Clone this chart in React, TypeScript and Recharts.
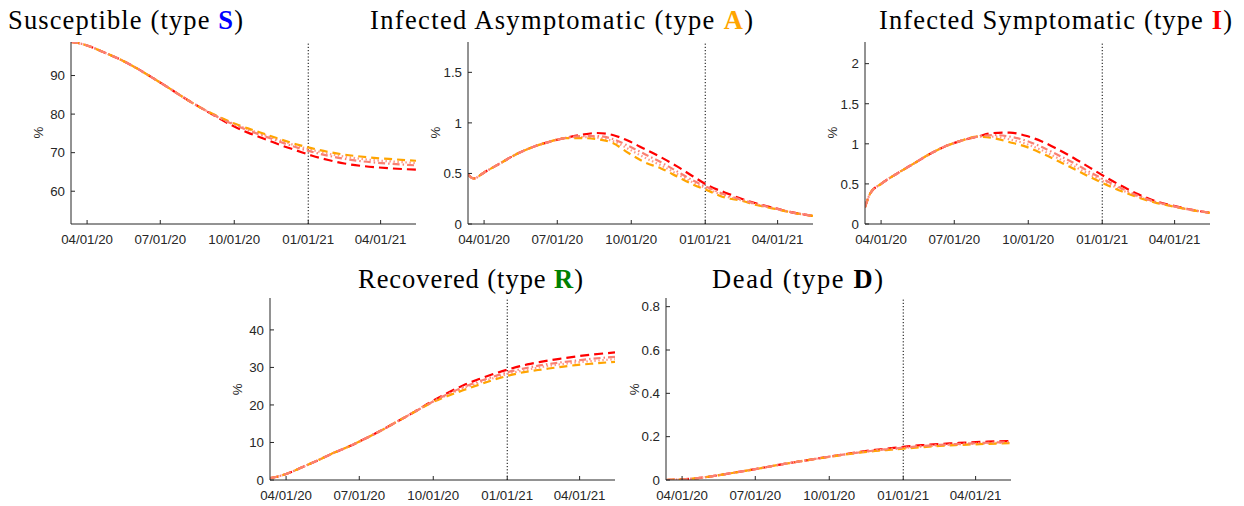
import { LineChart, Line, XAxis, YAxis, ReferenceLine } from "recharts"

// days since 2020-03-12
const days = [0, 7, 20, 40, 60, 80, 100, 120, 140, 160, 180, 200, 220, 240, 260, 280, 300, 320, 340, 360, 380, 400, 429]
const tickDays = [20, 111, 203, 295, 385]
const tickLabels = ["04/01/20", "07/01/20", "10/01/20", "01/01/21", "04/01/21"]
const splitDay = 295

const sRed = [98.7, 98.5, 97.8, 96.1, 94.3, 92.1, 89.6, 87.0, 84.3, 81.8, 79.4, 77.1, 75.2, 73.6, 72.0, 70.6, 69.2, 68.1, 67.2, 66.6, 66.2, 65.9, 65.6]
const sMid = [98.7, 98.5, 97.8, 96.1, 94.3, 92.1, 89.6, 87.0, 84.3, 81.8, 79.5, 77.5, 75.8, 74.3, 72.8, 71.4, 70.2, 69.2, 68.4, 67.8, 67.4, 67.1, 66.7]
const sDot = [98.7, 98.5, 97.8, 96.1, 94.3, 92.1, 89.6, 87.0, 84.3, 81.8, 79.6, 77.7, 76.1, 74.6, 73.2, 71.8, 70.7, 69.7, 69.0, 68.4, 68.0, 67.7, 67.3]
const sOrange = [98.7, 98.5, 97.8, 96.1, 94.3, 92.1, 89.6, 87.0, 84.3, 81.8, 79.7, 77.8, 76.3, 74.9, 73.5, 72.2, 71.1, 70.2, 69.5, 69.0, 68.6, 68.3, 67.9]

const aRed = [0.49, 0.45, 0.51, 0.6, 0.69, 0.76, 0.81, 0.85, 0.88, 0.9, 0.88, 0.82, 0.74, 0.66, 0.57, 0.47, 0.375, 0.31, 0.25, 0.2, 0.16, 0.12, 0.08]
const aMid = [0.49, 0.45, 0.51, 0.6, 0.69, 0.76, 0.81, 0.85, 0.87, 0.87, 0.84, 0.77, 0.69, 0.61, 0.52, 0.43, 0.355, 0.29, 0.24, 0.195, 0.157, 0.12, 0.08]
const aDot = [0.49, 0.45, 0.51, 0.6, 0.69, 0.76, 0.81, 0.85, 0.86, 0.855, 0.82, 0.74, 0.655, 0.58, 0.495, 0.41, 0.34, 0.275, 0.235, 0.19, 0.155, 0.12, 0.08]
const aOrange = [0.49, 0.45, 0.51, 0.6, 0.69, 0.76, 0.81, 0.85, 0.85, 0.84, 0.8, 0.7, 0.61, 0.55, 0.47, 0.39, 0.325, 0.26, 0.23, 0.185, 0.152, 0.118, 0.08]

const iRed = [0.21, 0.39, 0.5, 0.63, 0.75, 0.87, 0.97, 1.04, 1.09, 1.135, 1.14, 1.1, 1.03, 0.93, 0.82, 0.7, 0.58, 0.47, 0.37, 0.29, 0.235, 0.19, 0.14]
const iMid = [0.21, 0.39, 0.5, 0.63, 0.75, 0.87, 0.97, 1.04, 1.09, 1.11, 1.09, 1.04, 0.96, 0.86, 0.76, 0.645, 0.54, 0.44, 0.35, 0.28, 0.23, 0.187, 0.14]
const iDot = [0.21, 0.39, 0.5, 0.63, 0.75, 0.87, 0.97, 1.04, 1.09, 1.09, 1.055, 1.0, 0.92, 0.82, 0.72, 0.615, 0.515, 0.42, 0.34, 0.275, 0.228, 0.186, 0.14]
const iOrange = [0.21, 0.39, 0.5, 0.63, 0.75, 0.87, 0.97, 1.04, 1.09, 1.07, 1.02, 0.965, 0.88, 0.785, 0.685, 0.585, 0.49, 0.405, 0.33, 0.27, 0.225, 0.185, 0.14]

const rRed = [0.5, 0.8, 1.6, 3.4, 5.3, 7.3, 9.1, 11.2, 13.4, 15.8, 18.2, 20.8, 23.1, 25.2, 26.9, 28.4, 29.7, 30.8, 31.6, 32.3, 32.9, 33.4, 34.0]
const rMid = [0.5, 0.8, 1.6, 3.4, 5.3, 7.3, 9.1, 11.2, 13.4, 15.8, 18.2, 20.6, 22.8, 24.7, 26.3, 27.7, 29.0, 29.9, 30.7, 31.3, 31.8, 32.3, 32.8]
const rDot = [0.5, 0.8, 1.6, 3.4, 5.3, 7.3, 9.1, 11.2, 13.4, 15.8, 18.2, 20.6, 22.6, 24.4, 25.9, 27.3, 28.5, 29.4, 30.2, 30.8, 31.3, 31.7, 32.2]
const rOrange = [0.5, 0.8, 1.6, 3.4, 5.3, 7.3, 9.1, 11.2, 13.4, 15.8, 18.2, 20.5, 22.3, 23.9, 25.4, 26.8, 28.0, 28.9, 29.5, 30.1, 30.6, 31.0, 31.5]

const dRed = [0, 0.001, 0.003, 0.009, 0.019, 0.031, 0.043, 0.056, 0.07, 0.082, 0.094, 0.106, 0.118, 0.129, 0.139, 0.147, 0.155, 0.161, 0.166, 0.17, 0.174, 0.177, 0.18]
const dMid = [0, 0.001, 0.003, 0.009, 0.019, 0.031, 0.043, 0.056, 0.07, 0.082, 0.094, 0.106, 0.117, 0.127, 0.137, 0.144, 0.151, 0.157, 0.162, 0.166, 0.169, 0.172, 0.175]
const dDot = [0, 0.001, 0.003, 0.009, 0.019, 0.031, 0.043, 0.056, 0.07, 0.082, 0.094, 0.106, 0.117, 0.127, 0.136, 0.142, 0.149, 0.155, 0.16, 0.164, 0.167, 0.17, 0.173]
const dOrange = [0, 0.001, 0.003, 0.009, 0.019, 0.031, 0.043, 0.056, 0.07, 0.082, 0.094, 0.105, 0.116, 0.126, 0.134, 0.14, 0.146, 0.152, 0.157, 0.161, 0.164, 0.167, 0.17]

const axisColor = "#262626"
const tickFont = "'Liberation Sans', Arial, Helvetica, sans-serif"
const titleFont = "'Liberation Serif', 'Times New Roman', serif"

// drawing order: red under, dash-dot salmon on top
const lineStyles = [
  { key: "red", stroke: "#ff0000", dash: "9 5" },
  { key: "dot", stroke: "#ff9a8a", dash: "1.5 2.5" },
  { key: "orange", stroke: "#ffa500", dash: "8 5" },
  { key: "mid", stroke: "#fa8072", dash: "7 3 1.5 3" },
]

const PLOT_W = 345
const PLOT_H = 182

function XTick(props: any) {
  const { x, y, payload } = props
  const i = tickDays.indexOf(payload.value)
  return (
    <g>
      <line x1={x} y1={y} x2={x} y2={y - 4} stroke={axisColor} />
      <text x={x} y={y + 19.5} textAnchor="middle" fontSize={13.3} fontFamily={tickFont} fill={axisColor}>
        {tickLabels[i]}
      </text>
    </g>
  )
}

function YTick(props: any) {
  const { x, y, payload } = props
  return (
    <g>
      <line x1={x} y1={y} x2={x + 4} y2={y} stroke={axisColor} />
      <text x={x - 6} y={y} dy="0.36em" textAnchor="end" fontSize={13.3} fontFamily={tickFont} fill={axisColor}>
        {payload.value}
      </text>
    </g>
  )
}

interface PanelProps {
  x0: number
  y0: number
  series: number[][]
  domain: [number, number]
  ticks: number[]
}

function Panel({ x0, y0, series, domain, ticks }: PanelProps) {
  const data = days.map((d, i) => ({
    day: d,
    red: series[0][i],
    mid: series[1][i],
    dot: series[2][i],
    orange: series[3][i],
  }))
  return (
    <div style={{ position: "absolute", left: x0 - 60, top: y0 - 10 }}>
      <LineChart width={60 + PLOT_W + 20} height={10 + PLOT_H + 40} data={data} margin={{ top: 10, right: 20, bottom: 0, left: 0 }}>
        <XAxis
          type="number"
          dataKey="day"
          domain={[0, 429]}
          allowDataOverflow
          ticks={tickDays}
          interval={0}
          height={40}
          tickSize={0}
          tickMargin={0}
          tickLine={false}
          stroke={axisColor}
          tick={(p: any) => <XTick {...p} />}
        />
        <YAxis
          type="number"
          domain={domain}
          allowDataOverflow
          ticks={ticks}
          interval={0}
          width={60}
          tickSize={0}
          tickMargin={0}
          tickLine={false}
          stroke={axisColor}
          tick={(p: any) => <YTick {...p} />}
        />
        <ReferenceLine x={splitDay} stroke="#000" strokeDasharray="1.2 2" strokeWidth={1} />
        {lineStyles.map((s) => (
          <Line
            key={s.key}
            type="monotone"
            dataKey={s.key}
            stroke={s.stroke}
            strokeWidth={2.2}
            strokeDasharray={s.dash}
            dot={false}
            isAnimationActive={false}
          />
        ))}
      </LineChart>
    </div>
  )
}

const titles = [
  { x: 8, y: 29, w: 235, text: "Susceptible (type ", letter: "S", color: "#0000ff" },
  { x: 370, y: 29, w: 383, text: "Infected Asymptomatic (type ", letter: "A", color: "#ffa500" },
  { x: 879, y: 29, w: 353, text: "Infected Symptomatic (type ", letter: "I", color: "#ff0000" },
  { x: 358, y: 288, w: 225, text: "Recovered (type ", letter: "R", color: "#008000" },
  { x: 712, y: 288, w: 171, text: "Dead (type ", letter: "D", color: "#000000" },
]

const panels = [
  { x0: 70.5, y0: 41.7, series: [sRed, sMid, sDot, sOrange], domain: [51.5, 98.7] as [number, number], ticks: [60, 70, 80, 90] },
  { x0: 467.5, y0: 41.7, series: [aRed, aMid, aDot, aOrange], domain: [0, 1.8] as [number, number], ticks: [0, 0.5, 1, 1.5] },
  { x0: 864.7, y0: 41.7, series: [iRed, iMid, iDot, iOrange], domain: [0, 2.27] as [number, number], ticks: [0, 0.5, 1, 1.5, 2] },
  { x0: 269.5, y0: 298.3, series: [rRed, rMid, rDot, rOrange], domain: [0, 48.5] as [number, number], ticks: [0, 10, 20, 30, 40] },
  { x0: 666, y0: 298.3, series: [dRed, dMid, dDot, dOrange], domain: [0, 0.84] as [number, number], ticks: [0, 0.2, 0.4, 0.6, 0.8] },
]

export default function App() {
  return (
    <div style={{ position: "absolute", left: 0, top: 0, width: 1244, height: 506, background: "#fff" }}>
      {panels.map((p, i) => (
        <Panel key={i} {...p} />
      ))}
      <svg width={1244} height={506} style={{ position: "absolute", left: 0, top: 0, pointerEvents: "none" }}>
        {titles.map((t) => (
          <text key={t.letter} x={t.x} y={t.y} fontSize={26.5} fontFamily={titleFont} fill="#000" textLength={t.w} lengthAdjust="spacing">
            {t.text}
            <tspan fill={t.color} fontWeight="bold">{t.letter}</tspan>
            {")"}
          </text>
        ))}
        {panels.map((p, i) => {
          const cx = p.x0 - 32
          const cy = p.y0 + PLOT_H / 2
          return (
            <text key={i} x={cx} y={cy} dy="0.36em" textAnchor="middle" transform={`rotate(-90 ${cx} ${cy})`} fontSize={13.3} fontFamily={tickFont} fill={axisColor}>
              %
            </text>
          )
        })}
      </svg>
    </div>
  )
}
